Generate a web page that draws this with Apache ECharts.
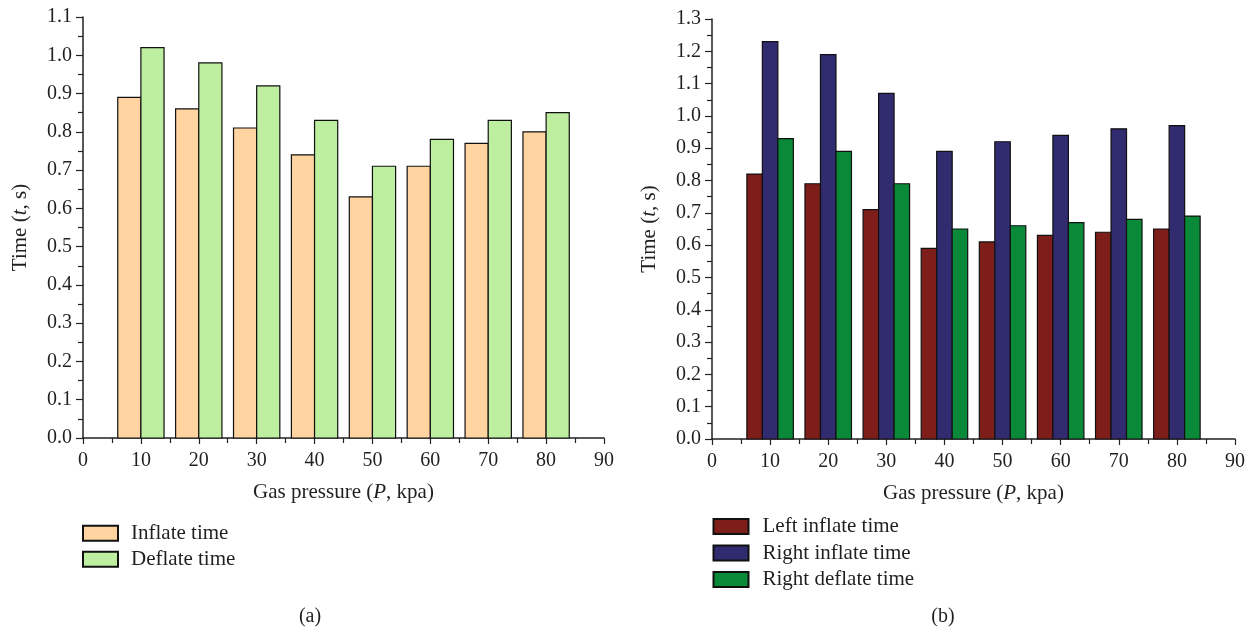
<!DOCTYPE html>
<html>
<head>
<meta charset="utf-8">
<script src="https://cdn.jsdelivr.net/npm/echarts@6/dist/echarts.min.js"></script>
<style>
html,body{margin:0;padding:0;background:#fff;}
#chart{width:1254px;height:631px;}
</style>
</head>
<body>
<div id="chart"></div>
<script>
// ---- data ----
const pressures = [10, 20, 30, 40, 50, 60, 70, 80];
const inflateTime = [0.89, 0.86, 0.81, 0.74, 0.63, 0.71, 0.77, 0.80];
const deflateTime = [1.02, 0.98, 0.92, 0.83, 0.71, 0.78, 0.83, 0.85];
const leftInflateTime = [0.82, 0.79, 0.71, 0.59, 0.61, 0.63, 0.64, 0.65];
const rightInflateTime = [1.23, 1.19, 1.07, 0.89, 0.92, 0.94, 0.96, 0.97];
const rightDeflateTime = [0.93, 0.89, 0.79, 0.65, 0.66, 0.67, 0.68, 0.69];
const xTicks = [0, 10, 20, 30, 40, 50, 60, 70, 80, 90];

const FONT = 'Liberation Serif';
const TXT = '#231f20';
const NAME_FS = 21;
const TICK_FS = 20;
const chart = echarts.init(document.getElementById('chart'));

function pairs(vals) { return pressures.map((p, i) => [p, vals[i]]); }

function barRenderer(o0, o1) {
  return function (params, api) {
    const x = api.value(0), y = api.value(1);
    const a = api.coord([x + o0, y]);
    const b = api.coord([x + o1, 0]);
    return {
      type: 'rect',
      shape: { x: a[0], y: a[1], width: b[0] - a[0], height: b[1] - a[1] },
      style: { fill: api.visual('color'), stroke: '#111', lineWidth: 1.2 }
    };
  };
}

function xAxis(gi) {
  return {
    type: 'value', gridIndex: gi, min: 0, max: 90, interval: 10,
    name: '{n|Gas pressure (}{i|P}{n|, kpa)}',
    nameLocation: 'middle', nameGap: 44,
    nameTextStyle: { rich: {
      n: { fontFamily: FONT, fontSize: NAME_FS, color: TXT },
      i: { fontFamily: FONT, fontSize: NAME_FS, color: TXT, fontStyle: 'italic' } } },
    axisLine: { show: true, onZero: false, lineStyle: { color: '#222', width: 1.5 } },
    axisTick: { show: true, inside: false, length: 6, lineStyle: { color: '#222', width: 1.2 } },
    minorTick: { show: true, splitNumber: 2, length: 5, lineStyle: { color: '#222', width: 1.2 } },
    splitLine: { show: false },
    axisLabel: { fontFamily: FONT, fontSize: TICK_FS, color: TXT, margin: 13,
      formatter: v => xTicks.includes(v) ? String(v) : '' }
  };
}

function yAxis(gi, max) {
  return {
    type: 'value', gridIndex: gi, min: 0, max: max, interval: 0.1,
    name: '{n|Time (}{i|t}{n|, s)}',
    nameLocation: 'middle', nameGap: 52, nameRotate: 90,
    nameTextStyle: { rich: {
      n: { fontFamily: FONT, fontSize: NAME_FS, color: TXT },
      i: { fontFamily: FONT, fontSize: NAME_FS, color: TXT, fontStyle: 'italic' } } },
    axisLine: { show: true, onZero: false, lineStyle: { color: '#222', width: 1.5 } },
    axisTick: { show: true, inside: false, length: 7, lineStyle: { color: '#222', width: 1.2 } },
    minorTick: { show: true, splitNumber: 2, length: 5, lineStyle: { color: '#222', width: 1.2 } },
    splitLine: { show: false },
    axisLabel: { fontFamily: FONT, fontSize: TICK_FS, color: TXT, margin: 11,
      formatter: v => v.toFixed(1) }
  };
}

function series(name, vals, gi, o0, o1, color) {
  return {
    type: 'custom', name: name, xAxisIndex: gi, yAxisIndex: gi,
    renderItem: barRenderer(o0, o1),
    itemStyle: { color: color, borderColor: '#111', borderWidth: 1.2 },
    encode: { x: 0, y: 1 },
    data: pairs(vals), clip: false
  };
}

const third = 8 / 3;
const option = {
  animation: false,
  backgroundColor: '#fff',
  grid: [
    { left: 83, top: 17, width: 521, height: 421, containLabel: false },
    { left: 712, top: 19, width: 523, height: 420, containLabel: false }
  ],
  xAxis: [xAxis(0), xAxis(1)],
  yAxis: [yAxis(0, 1.1), yAxis(1, 1.3)],
  legend: [
    { orient: 'vertical', left: 82, top: 522.7, padding: 0, itemWidth: 35, itemHeight: 15, itemGap: 5,
      icon: 'rect', textStyle: { fontFamily: FONT, fontSize: NAME_FS, lineHeight: 21, color: TXT, padding: [0, 0, 0, 8] },
      data: ['Inflate time', 'Deflate time'] },
    { orient: 'vertical', left: 712.5, top: 516, padding: 0, itemWidth: 35, itemHeight: 15, itemGap: 5.5,
      icon: 'rect', textStyle: { fontFamily: FONT, fontSize: NAME_FS, lineHeight: 21, color: TXT, padding: [0, 0, 0, 9] },
      data: ['Left inflate time', 'Right inflate time', 'Right deflate time'] }
  ],
  graphic: [
    { type: 'text', x: 310, y: 617, style: { text: '(a)', font: '20px ' + FONT, fill: TXT, align: 'center', verticalAlign: 'middle' } },
    { type: 'text', x: 943, y: 617, style: { text: '(b)', font: '20px ' + FONT, fill: TXT, align: 'center', verticalAlign: 'middle' } }
  ],
  series: [
    series('Inflate time', inflateTime, 0, -4, 0, '#FFD4A0'),
    series('Deflate time', deflateTime, 0, 0, 4, '#BEEE9F'),
    series('Left inflate time', leftInflateTime, 1, -4, -4 + third, '#7E1E1B'),
    series('Right inflate time', rightInflateTime, 1, -4 + third, -4 + 2 * third, '#312B6F'),
    series('Right deflate time', rightDeflateTime, 1, -4 + 2 * third, 4, '#0A8938')
  ]
};
chart.setOption(option);
</script>
</body>
</html>
